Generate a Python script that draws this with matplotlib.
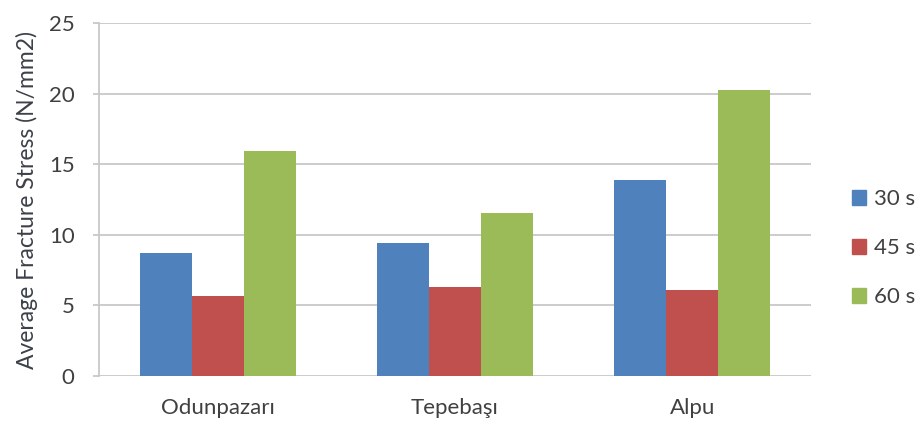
import matplotlib.pyplot as plt
import numpy as np
from matplotlib.patches import Patch

# Data
sites = ["Odunpazarı", "Tepebaşı", "Alpu"]
series_labels = ["30 s", "45 s", "60 s"]
stress_30s = [8.75, 9.4, 13.9]
stress_45s = [5.67, 6.33, 6.1]
stress_60s = [15.97, 11.58, 20.27]
colors = ["#4F81BD", "#C0504D", "#9BBB59"]

plt.rcParams['font.family'] = ['Lato', 'DejaVu Sans']
text_color = "#404040"

fig = plt.figure(figsize=(9.24, 4.28), dpi=100)
ax = fig.add_axes([99 / 924, 52 / 428, 712 / 924, 352.7 / 428])

x = np.arange(len(sites))
width = 0.219
for i, vals in enumerate([stress_30s, stress_45s, stress_60s]):
    ax.bar(x + (i - 1) * width, vals, width, color=colors[i], zorder=3)

ax.set_xlim(-0.5, 2.5)
ax.set_ylim(0, 25)
ax.set_yticks([0, 5, 10, 15, 20, 25])
ax.set_xticks(x)
ax.set_xticklabels(sites)
ax.grid(axis='y', color="#C8C8C8", linewidth=1.3, zorder=0)
for side in ["top", "right", "bottom"]:
    ax.spines[side].set_visible(False)
ax.spines["left"].set_color("#C8C8C8")
ax.spines["left"].set_linewidth(1.3)
ax.tick_params(axis='y', length=4.5, width=1.3, color="#C8C8C8", pad=13,
               labelsize=16, labelcolor=text_color)
ax.tick_params(axis='x', length=0, pad=16, labelsize=16, labelcolor=text_color)
ax.set_ylabel("Average Fracture Stress (N/mm2)", fontsize=16.5, color="#3c4048", labelpad=8)

handles = [Patch(facecolor=c, edgecolor=c) for c in colors]
fig.legend(handles, series_labels, loc='center left', bbox_to_anchor=(832 / 924, 180 / 428),
           frameon=False, fontsize=16, handlelength=0.65, handleheight=0.65,
           handletextpad=0.35, labelspacing=1.3, labelcolor=text_color)

fig.savefig("out.png", dpi=100)
